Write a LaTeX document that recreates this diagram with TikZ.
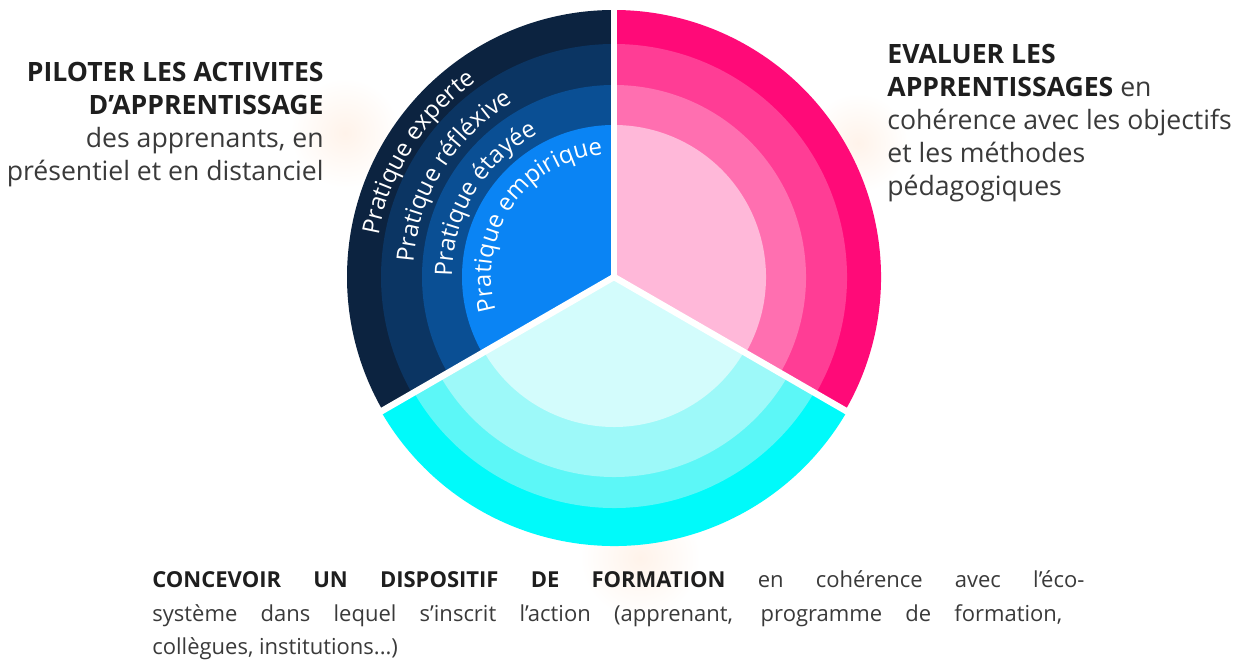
\documentclass[tikz,border=0pt]{standalone}
\usepackage{fontspec}
\setmainfont{Open Sans}
\usetikzlibrary{decorations.text}
\definecolor{navyA}{HTML}{0C2340}
\definecolor{navyB}{HTML}{0B3563}
\definecolor{navyC}{HTML}{0A4F94}
\definecolor{navyD}{HTML}{0A84F4}
\definecolor{pinkA}{HTML}{FF0A78}
\definecolor{pinkB}{HTML}{FF3D95}
\definecolor{pinkC}{HTML}{FF6FB0}
\definecolor{pinkD}{HTML}{FFB8D9}
\definecolor{cyanA}{HTML}{00FAFA}
\definecolor{cyanB}{HTML}{5CF7F7}
\definecolor{cyanC}{HTML}{9DF9F9}
\definecolor{cyanD}{HTML}{D3FCFC}
\definecolor{txtbold}{HTML}{1E1E1E}
\definecolor{txtreg}{HTML}{3A3A3A}
\definecolor{glow}{HTML}{FFF3EA}
\newcommand{\curvefont}{\fontsize{12}{14}\selectfont}
\begin{document}
\begin{tikzpicture}[x=0.5pt,y=0.5pt,
  sepline/.style={white,line width=3.2pt},
  glowspot/.style={inner color=glow,outer color=white},
  curvelabel/.style={decorate,decoration={text along path,text color=white,text={#1}}},
  sideannot/.style={inner sep=0pt,text=txtreg,font=\fontsize{13.3}{16.6}\selectfont},
  bottomannot/.style={inner sep=0pt,text=txtreg,font=\fontsize{11}{16.75}\selectfont}]
\useasboundingbox (0,0) rectangle (1238,668);
\fill[white] (0,0) rectangle (1238,668);
% faint background glows
\shade[glowspot] (345,535) circle[radius=55];
\shade[glowspot] (858,525) circle[radius=50];
\shade[glowspot] (640,110) circle[radius=60];
\coordinate (C) at (614,391);
% left sector (blue)
\foreach \r/\c in {267/navyA,233/navyB,192/navyC,152/navyD}
  \fill[\c] (C) -- ([shift={(90:\r)}]C) arc[start angle=90,end angle=210,radius=\r] -- cycle;
% right sector (pink)
\foreach \r/\c in {267/pinkA,233/pinkB,192/pinkC,152/pinkD}
  \fill[\c] (C) -- ([shift={(-30:\r)}]C) arc[start angle=-30,end angle=90,radius=\r] -- cycle;
% bottom sector (cyan)
\foreach \r/\c in {269/cyanA,231/cyanB,200/cyanC,150/cyanD}
  \fill[\c] (C) -- ([shift={(210:\r)}]C) arc[start angle=210,end angle=330,radius=\r] -- cycle;
% separators
\coordinate (s1) at ([shift={(90:285)}]C);
\coordinate (s2) at ([shift={(210:285)}]C);
\coordinate (s3) at ([shift={(330:285)}]C);
\draw[sepline] (C) -- (s1);
\draw[sepline] (C) -- (s2);
\draw[sepline] (C) -- (s3);
% curved labels
\path[curvelabel={|\curvefont|Pratique experte}]
  ([shift={(170:239)}]C) arc[start angle=170,end angle=90,radius=239];
\path[curvelabel={|\curvefont|Pratique réfléxive}]
  ([shift={(176:201)}]C) arc[start angle=176,end angle=90,radius=201];
\path[curvelabel={|\curvefont|Pratique étayée}]
  ([shift={(180:162)}]C) arc[start angle=180,end angle=90,radius=162];
\path[curvelabel={|\curvefont|Pratique empirique}]
  ([shift={(196:123)}]C) arc[start angle=196,end angle=70,radius=123];
% annotations
\node[sideannot,anchor=base east,align=right] (piloter) at (324,487)
  {{\bfseries\color{txtbold}PILOTER LES ACTIVITES}\\
   {\bfseries\color{txtbold}D’APPRENTISSAGE}\\
   des apprenants, en\\
   présentiel et en distanciel};
\node[sideannot,anchor=base west,align=left] (evaluer) at (887,472)
  {{\bfseries\color{txtbold}EVALUER LES}\\
   {\bfseries\color{txtbold}APPRENTISSAGES} en\\
   cohérence avec les objectifs\\
   et les méthodes\\
   pédagogiques};
\node[bottomannot,anchor=base west,align=left] (concevoir) at (152,13)
  {\makebox[466pt][s]{{\bfseries\color{txtbold}CONCEVOIR UN DISPOSITIF DE FORMATION} en cohérence avec l’éco-}\\
   \makebox[455pt][s]{système dans lequel s’inscrit l’action (apprenant, programme de formation,}\\
   collègues, institutions...)};
\end{tikzpicture}
\end{document}
